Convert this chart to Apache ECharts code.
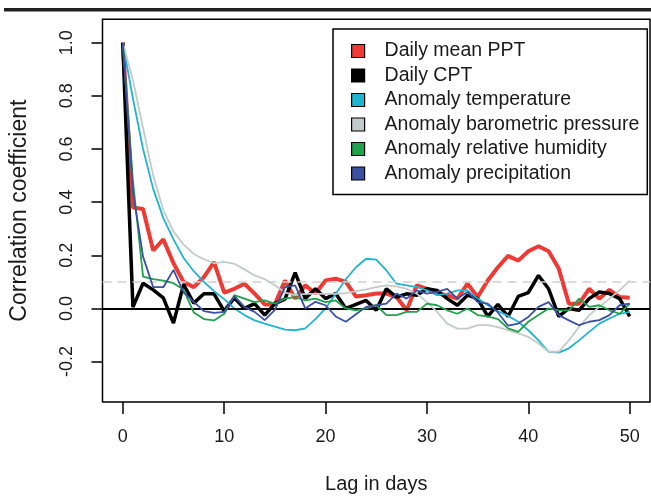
<!DOCTYPE html>
<html>
<head>
<meta charset="utf-8">
<script src="https://cdn.jsdelivr.net/npm/echarts@6/dist/echarts.min.js"></script>
<style>html,body{margin:0;padding:0;background:#fff;}#chart{width:651px;height:499px;}</style>
</head>
<body>
<div id="chart"></div>
<script>
const lags = Array.from({length: 51}, (_, i) => i);
const xTicks = [0, 10, 20, 30, 40, 50];
const yTicks = [-0.2, 0, 0.2, 0.4, 0.6, 0.8, 1.0];
const seriesNames = ['Daily mean PPT', 'Daily CPT', 'Anomaly temperature', 'Anomaly barometric pressure', 'Anomaly relative humidity', 'Anomaly precipitation'];
const dailyMeanPPT = [1.0, 0.38, 0.374, 0.218, 0.26, 0.17, 0.1, 0.08, 0.118, 0.174, 0.06, 0.074, 0.093, 0.056, 0.015, 0.016, 0.105, 0.037, 0.087, 0.056, 0.105, 0.112, 0.1, 0.045, 0.05, 0.056, 0.056, 0.043, -0.007, 0.087, 0.074, 0.056, 0.05, 0.037, 0.093, 0.043, 0.105, 0.155, 0.198, 0.18, 0.215, 0.234, 0.215, 0.15, 0.018, 0.018, 0.074, 0.037, 0.07, 0.043, 0.04];
const dailyCPT = [1.0, 0.005, 0.095, 0.07, 0.04, -0.055, 0.09, 0.02, 0.055, 0.055, -0.01, 0.04, 0.0, 0.018, -0.025, 0.018, 0.035, 0.135, 0.037, 0.074, 0.037, 0.056, 0.0, 0.015, 0.03, -0.007, 0.074, 0.043, 0.055, 0.05, 0.074, 0.068, 0.037, 0.012, 0.05, 0.037, -0.03, 0.015, -0.03, 0.045, 0.06, 0.124, 0.074, -0.03, 0.0, -0.007, 0.037, 0.062, 0.056, 0.037, -0.03];
const anomTemperature = [1.0, 0.79, 0.6, 0.45, 0.34, 0.26, 0.19, 0.14, 0.1, 0.065, 0.035, 0.0, -0.025, -0.045, -0.057, -0.068, -0.08, -0.082, -0.075, -0.04, 0.0, 0.055, 0.11, 0.155, 0.187, 0.184, 0.143, 0.093, 0.087, 0.08, 0.068, 0.05, 0.056, 0.068, 0.068, 0.037, 0.012, -0.01, -0.028, -0.05, -0.082, -0.12, -0.163, -0.166, -0.15, -0.12, -0.088, -0.057, -0.038, -0.02, -0.013];
const anomPressure = [1.0, 0.86, 0.68, 0.5, 0.37, 0.29, 0.24, 0.205, 0.185, 0.17, 0.175, 0.168, 0.147, 0.124, 0.11, 0.087, 0.06, 0.05, 0.055, 0.055, 0.055, 0.055, 0.058, 0.065, 0.072, 0.08, 0.087, 0.083, 0.074, 0.056, 0.024, -0.013, -0.057, -0.076, -0.076, -0.063, -0.063, -0.07, -0.082, -0.094, -0.107, -0.132, -0.163, -0.163, -0.12, -0.07, -0.025, 0.006, 0.037, 0.068, 0.105];
const anomHumidity = [1.0, 0.48, 0.12, 0.11, 0.105, 0.095, 0.07, -0.015, -0.04, -0.045, -0.02, 0.05, 0.037, 0.024, 0.03, 0.018, 0.037, 0.043, 0.03, 0.037, 0.024, 0.03, 0.0, -0.007, 0.0, 0.012, -0.025, -0.025, -0.013, -0.013, 0.018, 0.012, -0.007, -0.02, 0.0, -0.025, -0.03, -0.04, -0.075, -0.088, -0.05, -0.025, 0.0, -0.007, -0.007, 0.037, 0.006, 0.012, -0.007, -0.02, 0.018];
const anomPrecipitation = [1.0, 0.44, 0.195, 0.08, 0.08, 0.145, 0.06, 0.025, -0.01, -0.017, -0.013, 0.045, 0.005, -0.013, -0.044, -0.005, 0.08, 0.087, 0.0, 0.025, 0.012, -0.03, -0.05, -0.022, 0.006, 0.012, 0.018, 0.056, 0.037, 0.068, 0.056, 0.062, 0.074, 0.037, 0.062, 0.024, 0.018, -0.015, -0.065, -0.057, -0.032, 0.006, 0.024, -0.025, -0.045, -0.063, -0.05, -0.044, -0.025, 0.012, 0.018];
const zeroLine = 0;
const ciLine = 0.1;

const seriesValues = [dailyMeanPPT, dailyCPT, anomTemperature, anomPressure, anomHumidity, anomPrecipitation];
const colors = ['#ee3a35', '#000000', '#1fb4cf', '#c3cbca', '#1fa24b', '#3b50a2'];
const widths = [4, 3.5, 1.8, 1.8, 1.8, 1.8];

const font = 'Liberation Sans, Arial, Helvetica, sans-serif';
const chart = echarts.init(document.getElementById('chart'), null, {renderer: 'canvas'});

const series = seriesNames.map((name, k) => ({
  name: name,
  type: 'line',
  data: lags.map((l, i) => [l, seriesValues[k][i]]),
  showSymbol: false,
  symbol: 'none',
  color: colors[k],
  lineStyle: {color: colors[k], width: widths[k]},
  itemStyle: {color: colors[k]},
  z: 2 + k,
  silent: true
}));
series.push({
  name: 'ref',
  type: 'line',
  data: [],
  z: 20,
  silent: true,
  markLine: {
    silent: true,
    symbol: 'none',
    label: {show: false},
    animation: false,
    data: [
      {yAxis: ciLine, lineStyle: {color: '#cfcfcf', width: 1.6, type: [9, 6]}},
      {yAxis: zeroLine, lineStyle: {color: '#000', width: 1.8, type: 'solid'}}
    ]
  }
});

chart.setOption({
  animation: false,
  backgroundColor: '#fff',
  textStyle: {fontFamily: font},
  grid: {left: 102.5, right: 1, top: 19.3, bottom: 93.3, show: true, borderColor: '#000', borderWidth: 1.5, backgroundColor: 'transparent'},
  xAxis: {
    type: 'value', min: -2, max: 52,
    name: 'Lag in days', nameLocation: 'middle', nameGap: 72,
    nameTextStyle: {fontSize: 20, color: '#1a1a1a', fontFamily: font},
    axisLine: {show: false, onZero: false},
    axisTick: {show: true, length: 12, customValues: xTicks, lineStyle: {color: '#000', width: 1.5}},
    axisLabel: {customValues: xTicks, fontSize: 18, color: '#1a1a1a', margin: 26, fontFamily: font},
    splitLine: {show: false}
  },
  yAxis: {
    type: 'value', min: -0.352, max: 1.088,
    name: 'Correlation coefficient', nameLocation: 'middle', nameGap: 71,
    nameTextStyle: {fontSize: 23, color: '#1a1a1a', fontFamily: font},
    axisLine: {show: false, onZero: false},
    axisTick: {show: true, length: 11, customValues: yTicks, lineStyle: {color: '#000', width: 1.5}},
    axisLabel: {customValues: yTicks, rotate: 90, fontSize: 18, color: '#1a1a1a', margin: 26, fontFamily: font,
      formatter: v => Number(v).toFixed(1)},
    splitLine: {show: false}
  },
  legend: {
    data: seriesNames,
    orient: 'vertical',
    left: 333, top: 29,
    icon: 'rect',
    itemWidth: 13, itemHeight: 13, itemGap: 4.5,
    padding: [12, 8, 11, 18],
    backgroundColor: '#fff',
    borderColor: '#000', borderWidth: 1.5,
    itemStyle: {borderColor: '#000', borderWidth: 1.2},
    textStyle: {fontSize: 19.5, color: '#1a1a1a', fontFamily: font, padding: [0, 0, 0, 15]},
    selectedMode: false
  },
  graphic: [
    {type: 'rect', shape: {x: 4, y: 8, width: 647, height: 3.5}, style: {fill: '#222'}, silent: true}
  ],
  series: series
});
</script>
</body>
</html>
